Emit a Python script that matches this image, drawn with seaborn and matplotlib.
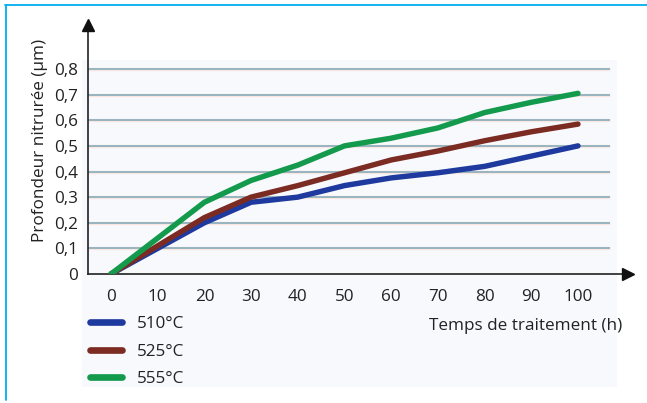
import numpy as np
import pandas as pd
import matplotlib
matplotlib.use("Agg")
import matplotlib.pyplot as plt
from matplotlib.patches import Rectangle
from matplotlib.lines import Line2D
import seaborn as sns

# ---- data ----
temps_h = [0, 10, 20, 30, 40, 50, 60, 70, 80, 90, 100]
prof_510 = [0, 0.10, 0.20, 0.28, 0.30, 0.345, 0.375, 0.395, 0.42, 0.46, 0.50]
prof_525 = [0, 0.11, 0.22, 0.30, 0.345, 0.395, 0.445, 0.48, 0.52, 0.555, 0.585]
prof_555 = [0, 0.14, 0.28, 0.365, 0.425, 0.50, 0.53, 0.57, 0.63, 0.67, 0.705]
series_labels = ["510°C", "525°C", "555°C"]
x_ticks = [0, 10, 20, 30, 40, 50, 60, 70, 80, 90, 100]
y_ticks = [0, 0.1, 0.2, 0.3, 0.4, 0.5, 0.6, 0.7, 0.8]
y_tick_labels = ["0", "0,1", "0,2", "0,3", "0,4", "0,5", "0,6", "0,7", "0,8"]

df = pd.DataFrame({
    "t": temps_h * 3,
    "p": prof_510 + prof_525 + prof_555,
    "serie": [series_labels[0]] * len(temps_h) + [series_labels[1]] * len(temps_h)
             + [series_labels[2]] * len(temps_h),
})

sns.set_theme(style="white")
plt.rcParams["font.family"] = ["Open Sans", "DejaVu Sans"]
FS = 12.3

W, H = 647, 403
fig = plt.figure(figsize=(W / 100, H / 100), dpi=100)

def fx(px):
    return px / W

def fy(py):
    return 1 - py / H

# pale background panel
fig.patches.append(Rectangle((fx(82), fy(387)), fx(617) - fx(82), fy(60) - fy(387),
                             transform=fig.transFigure, facecolor="#f8f9fd",
                             edgecolor="none", zorder=-10))
# cyan frame (top + left)
fig.add_artist(Line2D([fx(5), fx(647)], [fy(4.5), fy(4.5)], color="#00aeef", lw=1.3))
fig.add_artist(Line2D([fx(5.5), fx(5.5)], [fy(4.5), fy(400)], color="#00aeef", lw=1.3))

left, right, bottom, top = 88, 628, 274, 25
ax = fig.add_axes([fx(left), fy(bottom), fx(right) - fx(left), fy(top) - fy(bottom)])
ax.set_facecolor("none")
ax.set_zorder(5)

px_per_unit_x = (578 - 111) / 100
x0 = -(111 - left) / px_per_unit_x
x1 = 100 + (right - 578) / px_per_unit_x
px_per_unit_y = (274 - 69) / 0.8
y1 = 0.8 + (69 - top) / px_per_unit_y
ax.set_xlim(x0, x1)
ax.set_ylim(0, y1)

# gridlines
grid_end = 100 + (610 - 578) / px_per_unit_x
for yv in y_ticks[1:]:
    ax.hlines(yv, x0, grid_end, color="#f8e7e1", lw=2.4, zorder=1)
    ax.hlines(yv, x0, grid_end, color="#86adba", lw=1.2, zorder=1.1)

palette = {"510°C": "#1e3a9e", "525°C": "#7b2b22", "555°C": "#139a4c"}
sns.lineplot(data=df, x="t", y="p", hue="serie", palette=palette, ax=ax,
             lw=3.9, solid_capstyle="round", zorder=3, legend=True)

for s in ["top", "right"]:
    ax.spines[s].set_visible(False)
for s in ["left", "bottom"]:
    ax.spines[s].set_color("#222222")
    ax.spines[s].set_linewidth(1.2)
ax.plot([0], [1], marker="^", color="#111111", markersize=8, transform=ax.transAxes,
        clip_on=False, zorder=5)
ax.plot([1], [0], marker=">", color="#111111", markersize=8, transform=ax.transAxes,
        clip_on=False, zorder=5)

ax.set_xticks(x_ticks)
ax.set_xticklabels([str(v) for v in x_ticks], fontsize=FS, color="#222222")
ax.set_yticks(y_ticks)
ax.set_yticklabels(y_tick_labels, fontsize=FS, color="#222222")
ax.tick_params(axis="both", length=0, pad=7)
ax.tick_params(axis="x", pad=11)
ax.set_xlabel("")
ax.set_ylabel("")

fig.text(fx(40), fy(140), "Profondeur nitrurée (μm)", rotation=90, ha="center",
         va="center", fontsize=FS, color="#222222")
fig.text(fx(622), fy(326), "Temps de traitement (h)", ha="right", va="center",
         fontsize=FS, color="#222222")

handles, labels = ax.get_legend_handles_labels()
leg = ax.legend(handles, labels, loc="upper left",
                bbox_to_anchor=(fx(90), fy(316)), bbox_transform=fig.transFigure,
                frameon=False, fontsize=FS, handlelength=1.9, handletextpad=0.85,
                labelspacing=0.68, borderpad=0, borderaxespad=0)
for line in leg.get_lines():
    line.set_linewidth(4.8)
    line.set_solid_capstyle("round")
for t in leg.get_texts():
    t.set_color("#222222")

fig.savefig("out.png", dpi=100)
